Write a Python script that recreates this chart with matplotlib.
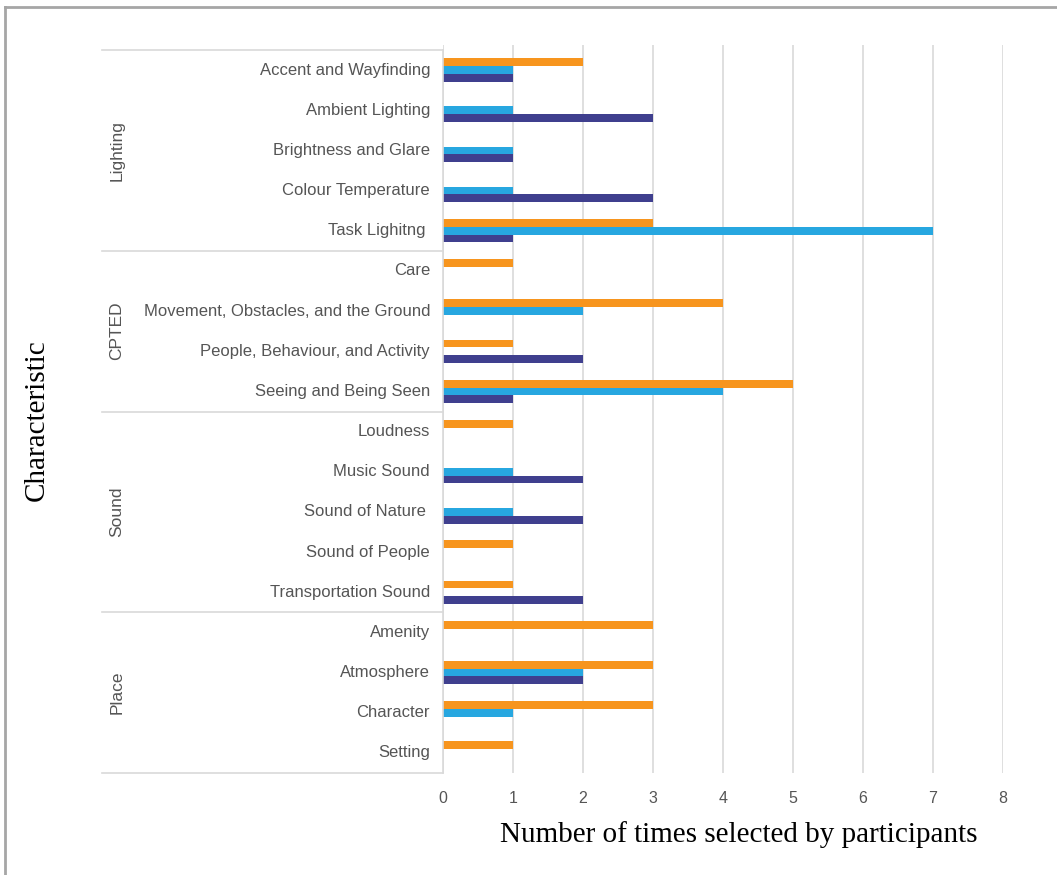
import matplotlib
matplotlib.use("Agg")
import matplotlib.pyplot as plt
from matplotlib.lines import Line2D
import numpy as np

# Characteristics grouped by theme (top to bottom)
groups = ["Lighting", "CPTED", "Sound", "Place"]
categories = [
    ["Accent and Wayfinding", "Ambient Lighting", "Brightness and Glare",
     "Colour Temperature", "Task Lighitng "],
    ["Care", "Movement, Obstacles, and the Ground",
     "People, Behaviour, and Activity", "Seeing and Being Seen"],
    ["Loudness", "Music Sound", "Sound of Nature ", "Sound of People",
     "Transportation Sound"],
    ["Amenity", "Atmosphere", "Character", "Setting"],
]

# Three series per characteristic (drawn top, middle, bottom within each row)
series_orange = [2, 0, 0, 0, 3,  1, 4, 1, 5,  1, 0, 0, 1, 1,  3, 3, 3, 1]
series_blue   = [1, 1, 1, 1, 7,  0, 2, 0, 4,  0, 1, 1, 0, 0,  0, 2, 1, 0]
series_navy   = [1, 3, 1, 3, 1,  0, 0, 2, 1,  0, 2, 2, 0, 2,  0, 2, 0, 0]

x_ticks = [0, 1, 2, 3, 4, 5, 6, 7, 8]

colors = ["#F7951E", "#27A7E0", "#3F3F8E"]
label_gray = "#555555"
grid_gray = "#D9D9D9"

W, H = 1057, 875
fig = plt.figure(figsize=(W / 100, H / 100), dpi=100)
fig.patch.set_facecolor("white")

# plot area in pixel coordinates
x0_px, x8_px = 443, 1003
top_px, bot_px = 45, 773
ax = fig.add_axes([x0_px / W, 1 - bot_px / H, (x8_px - x0_px) / W,
                   (bot_px - top_px) / H])

flat = [c for g in categories for c in g]
n = len(flat)
ypos = np.arange(n)
row_px = (bot_px - 50) / n
top_lim = -0.5 - (50 - top_px) / row_px

bh = 0.195
offsets = [-bh, 0.0, bh]
for vals, col, off in zip([series_orange, series_blue, series_navy], colors, offsets):
    v = np.array(vals, dtype=float)
    m = v > 0
    ax.barh(ypos[m] + off, v[m], height=bh, color=col, zorder=3, linewidth=0)

ax.set_xlim(0, 8)
ax.set_ylim(n - 0.5, top_lim)
ax.set_xticks(x_ticks)
ax.set_xticklabels([str(t) for t in x_ticks])
ax.set_yticks([])
ax.grid(axis="x", color=grid_gray, linewidth=1.2, zorder=0)
for s in ax.spines.values():
    s.set_visible(False)
ax.tick_params(axis="x", length=0, pad=13, labelsize=11.5, labelcolor=label_gray)
for lbl in ax.get_xticklabels():
    lbl.set_fontfamily("Liberation Sans")

# category labels and group dividers in the label column
trans = ax.get_yaxis_transform()
for i, name in enumerate(flat):
    ax.text(-13 / (x8_px - x0_px), i, name, transform=trans, ha="right",
            va="center", fontsize=12, color=label_gray,
            family="Liberation Sans", clip_on=False)

left_frac = (102 - x0_px) / (x8_px - x0_px)
bounds = [-0.5]
for g in categories:
    bounds.append(bounds[-1] + len(g))
for b in bounds:
    ax.add_line(Line2D([left_frac, 0], [b, b], transform=trans, color=grid_gray,
                       linewidth=1.2, clip_on=False))
ax.add_line(Line2D([0, 0], [bounds[0], bounds[-1]], transform=trans,
                   color=grid_gray, linewidth=1.2, clip_on=False, zorder=4))

group_x = (117 - x0_px) / (x8_px - x0_px)
for gname, b0, b1 in zip(groups, bounds[:-1], bounds[1:]):
    ax.text(group_x, (b0 + b1) / 2, gname, transform=trans, rotation=90,
            ha="center", va="center", fontsize=12.5, color=label_gray,
            family="Liberation Sans", clip_on=False)

# axis titles
fig.text(739 / W, 1 - 835 / H, "Number of times selected by participants",
         ha="center", va="center", fontsize=21, family="Liberation Serif",
         color="black")
fig.text(37 / W, 1 - 420 / H, "Characteristic", rotation=90, ha="center",
         va="center", fontsize=21, family="Liberation Serif", color="black")

# outer frame (left and top edges)
fig.add_artist(Line2D([5 / W, 5 / W], [0, 1 - 7 / H], transform=fig.transFigure,
                      color="#A6A6A6", linewidth=2))
fig.add_artist(Line2D([5 / W, 1], [1 - 7 / H, 1 - 7 / H], transform=fig.transFigure,
                      color="#A6A6A6", linewidth=2))

fig.savefig("out.png", dpi=100, facecolor="white")
